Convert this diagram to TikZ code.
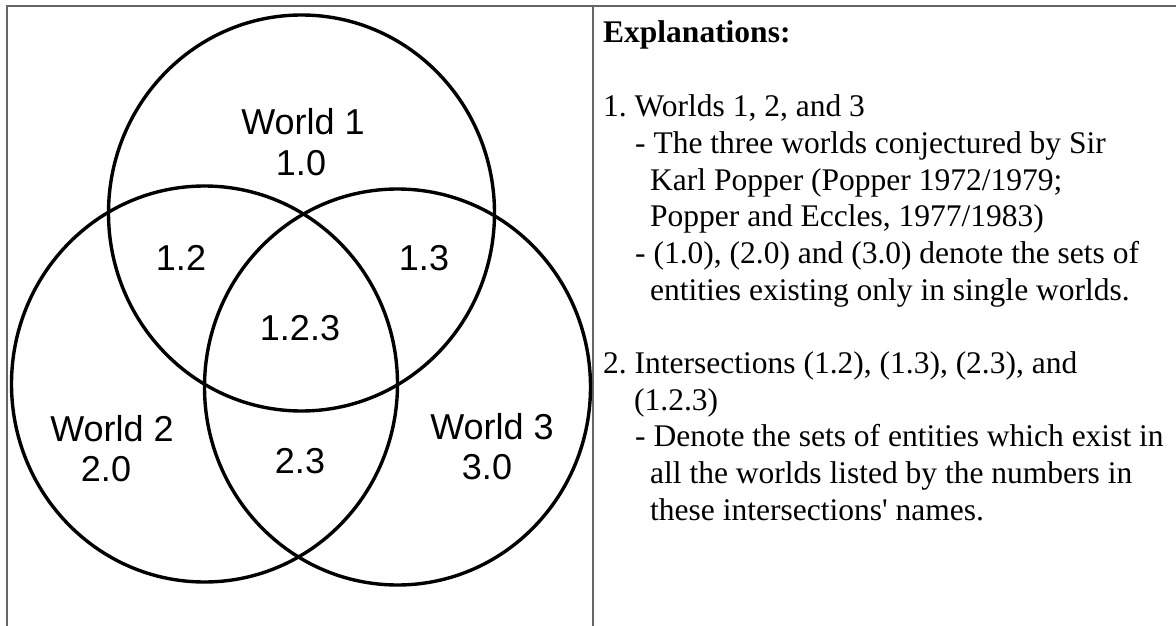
\documentclass[tikz,border=0pt]{standalone}
\usepackage{fontspec}
\setmainfont{Liberation Serif}[Ligatures=TeXOff]
\setsansfont{Liberation Sans}
\frenchspacing
\begin{document}
\begin{tikzpicture}[x=1pt, y=-1pt,
    world/.style={line width=3.4pt},
    frame/.style={draw=black!60, line width=1.3pt},
    lbl/.style={font=\sffamily\fontsize{36}{40}\selectfont, inner sep=0pt, anchor=base},
    txt/.style={font=\fontsize{31.5}{36.7}\selectfont, inner sep=0pt, anchor=base west}]
  \useasboundingbox (0,0) rectangle (1176,626);
  % table frame
  \draw[frame] (1176,6) -- (7,6) -- (7,626);
  \draw[frame] (593,6) -- (593,626);
  % the three worlds
  \coordinate (c1) at (301.5,213);
  \coordinate (c2) at (204.5,384);
  \coordinate (c3) at (397.5,387);
  \foreach \c in {c1,c2,c3} \draw[world] (\c) ellipse [x radius=193, y radius=198];
  \node[lbl] (w1) at (303,135) {World 1};
  \node[lbl] (n10) at (301,175) {1.0};
  \node[lbl] (n12) at (181,270) {1.2};
  \node[lbl] (n13) at (424,270) {1.3};
  \node[lbl] (n123) at (300,340) {1.2.3};
  \node[lbl] (w2) at (112,441) {World 2};
  \node[lbl] (n20) at (106,481) {2.0};
  \node[lbl] (n23) at (300,473) {2.3};
  \node[lbl] (w3) at (492,439) {World 3};
  \node[lbl] (n30) at (487,479) {3.0};
  % explanations
  \node[txt] (head) at (603,43) {\textbf{Explanations:}};
  \node[txt] (e1) at (603,117) {1. Worlds 1, 2, and 3};
  \node[txt] (e1a) at (635,153) {- The three worlds conjectured by Sir};
  \node[txt] (e1b) at (650,190) {Karl Popper (Popper 1972/1979;};
  \node[txt] (e1c) at (650,226) {Popper and Eccles, 1977/1983)};
  \node[txt] (e1d) at (635,263) {- (1.0), (2.0) and (3.0) denote the sets of};
  \node[txt] (e1e) at (650,300) {entities existing only in single worlds.};
  \node[txt] (e2) at (603,373) {2. Intersections (1.2), (1.3), (2.3), and};
  \node[txt] (e2a) at (634,410) {(1.2.3)};
  \node[txt] (e2b) at (635,446) {- Denote the sets of entities which exist in};
  \node[txt] (e2c) at (650,483) {all the worlds listed by the numbers in};
  \node[txt] (e2d) at (650,520) {these intersections' names.};
\end{tikzpicture}
\end{document}
